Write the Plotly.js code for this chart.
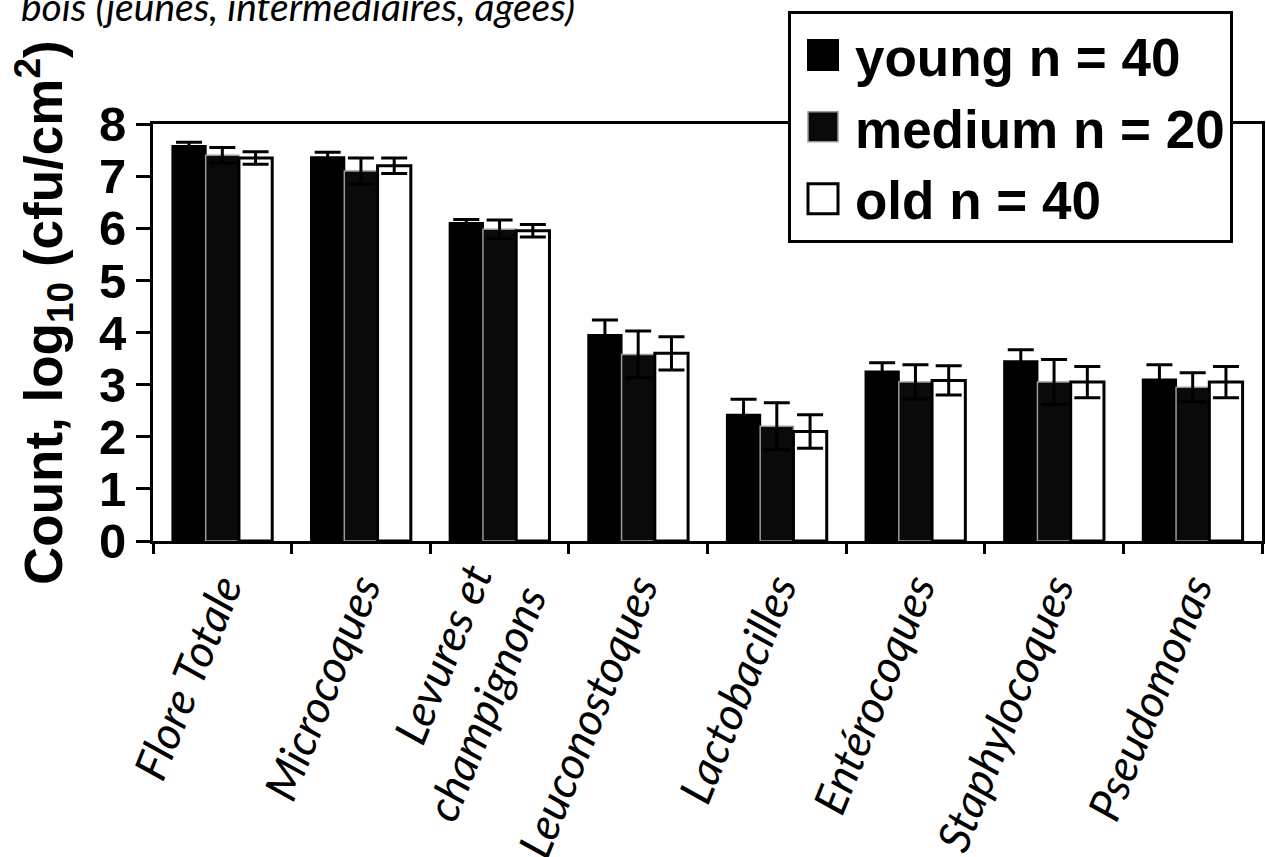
<!DOCTYPE html>
<html>
<head>
<meta charset="utf-8">
<script src="https://cdn.plot.ly/plotly-3.0.1.min.js"></script>
<style>
html, body { margin: 0; padding: 0; background: #fff; }
#chart { width: 1266px; height: 857px; }
</style>
</head>
<body>
<div id="chart"></div>
<script>
const categories = ['Flore Totale', 'Microcoques', 'Levures et<br>champignons', 'Leuconostoques',
                    'Lactobacilles', 'Entérocoques', 'Staphylocoques', 'Pseudomonas'];
const seriesNames = ['young n = 40', 'medium n = 20', 'old n = 40'];
const youngValues = [7.58, 7.36, 6.10, 3.95, 2.42, 3.25, 3.45, 3.10];
const youngErrors = [0.07, 0.10, 0.07, 0.29, 0.30, 0.17, 0.22, 0.28];
const mediumValues = [7.40, 7.10, 5.98, 3.58, 2.20, 3.05, 3.05, 2.95];
const mediumErrors = [0.15, 0.25, 0.18, 0.45, 0.45, 0.33, 0.43, 0.28];
const oldValues = [7.35, 7.20, 5.95, 3.60, 2.10, 3.08, 3.05, 3.05];
const oldErrors = [0.12, 0.15, 0.12, 0.32, 0.32, 0.28, 0.30, 0.30];
const yTickValues = [0, 1, 2, 3, 4, 5, 6, 7, 8];
const yTickLabels = ['0', '1', '2', '3', '4', '5', '6', '7', '8'];
const yTitle = 'Count, log<sub>10</sub> (cfu/cm<sup>2</sup>)';
const topText = 'bois (jeunes, intermédiaires, âgées)';

function err(arr) {
  return { type: 'data', array: arr, symmetric: true, visible: true, color: '#000', thickness: 3, width: 13 };
}

const traces = [
  { type: 'bar', name: seriesNames[0], x: categories, y: youngValues, error_y: err(youngErrors),
    marker: { color: '#000', line: { color: '#000', width: 2 } } },
  { type: 'bar', name: seriesNames[1], x: categories, y: mediumValues, error_y: err(mediumErrors),
    marker: { color: '#0a0a0a', line: { color: '#9a9a9a', width: 1.5 } } },
  { type: 'bar', name: seriesNames[2], x: categories, y: oldValues, error_y: err(oldErrors),
    marker: { color: '#fff', line: { color: '#000', width: 3 } } }
];

const L = 153, R = 1262, T = 124, B = 541;
const W = R - L, H = B - T;
const px = function (x) { return (x - L) / W; };
const py = function (y) { return (B - y) / H; };

const layout = {
  width: 1266, height: 857,
  margin: { l: L, r: 1266 - R, t: T, b: 857 - B, pad: 0 },
  paper_bgcolor: '#fff', plot_bgcolor: '#fff',
  barmode: 'group', bargap: 0.28, bargroupgap: 0,
  showlegend: true,
  legend: {
    x: px(788), y: py(11), xanchor: 'left', yanchor: 'top',
    bgcolor: '#fff', bordercolor: '#000', borderwidth: 3,
    font: { family: 'Liberation Sans, Arial, sans-serif', size: 53, weight: 'bold', color: '#000' },
    itemwidth: 54, tracegroupgap: 0
  },
  xaxis: {
    type: 'category', tickson: 'boundaries', ticks: 'outside', ticklen: 10, tickwidth: 3, tickcolor: '#000',
    showline: true, linecolor: '#000', linewidth: 3, mirror: true, showgrid: false, zeroline: false,
    tickangle: -68,
    tickfont: { family: 'Lato, "Open Sans", sans-serif', size: 45, style: 'italic', color: '#000' }
  },
  yaxis: {
    range: [0, 8], tickvals: yTickValues, ticktext: yTickLabels,
    ticks: 'outside', ticklen: 14, tickwidth: 3, tickcolor: '#000',
    showline: true, linecolor: '#000', linewidth: 3, mirror: true, showgrid: false, zeroline: false,
    tickfont: { family: 'Liberation Sans, Arial, sans-serif', size: 49, weight: 'bold', color: '#000' }
  },
  annotations: [
    { text: topText, xref: 'paper', yref: 'paper',
      x: px(19), y: py(6), xanchor: 'left', yanchor: 'middle', showarrow: false,
      font: { family: 'Lato, "Open Sans", sans-serif', size: 39, style: 'italic', color: '#000' } },
    { text: yTitle, xref: 'paper', yref: 'paper', textangle: -90,
      x: px(43), y: py(313), xanchor: 'center', yanchor: 'middle', showarrow: false,
      font: { family: 'Liberation Sans, Arial, sans-serif', size: 53, weight: 'bold', color: '#000' } }
  ]
};

Plotly.newPlot('chart', traces, layout, { displayModeBar: false, staticPlot: true }).then(function (gd) {
  gd.querySelectorAll('.legend .legendpoints path').forEach(function (p) {
    const t = p.getAttribute('transform') || '';
    p.setAttribute('transform', t + ' scale(2.5)');
    p.style.vectorEffect = 'non-scaling-stroke';
  });
});
</script>
</body>
</html>
